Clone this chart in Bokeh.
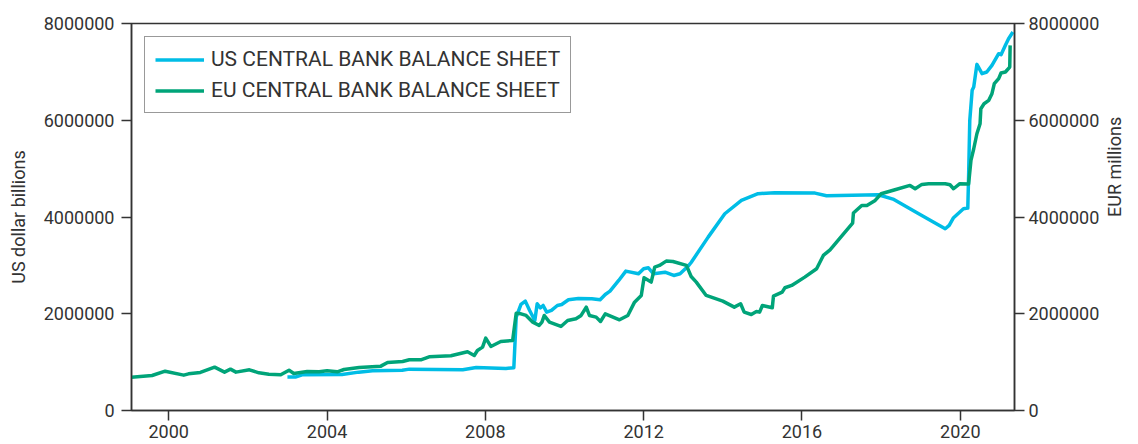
import math
from bokeh.plotting import figure
from bokeh.models import (Range1d, LinearAxis, FixedTicker, BasicTickFormatter,
                          Legend, LegendItem)
from bokeh.embed import file_html
from bokeh.resources import INLINE

# ---- data ----
us_years = [2003.0, 2003.2, 2003.37, 2004.38, 2004.8, 2005.15, 2005.9, 2006.08, 2007.43, 2007.77,
            2008.52, 2008.72, 2008.78, 2008.9, 2009.01, 2009.12, 2009.25, 2009.31, 2009.39, 2009.46,
            2009.55, 2009.67, 2009.82, 2009.93, 2010.1, 2010.35, 2010.69, 2010.9, 2011.03, 2011.15,
            2011.37, 2011.55, 2011.87, 2012.0, 2012.12, 2012.25, 2012.54, 2012.76, 2012.92, 2013.14,
            2013.2, 2013.63, 2014.05, 2014.47, 2014.89, 2015.31, 2016.33, 2016.62, 2017.93, 2018.3,
            2018.95, 2019.62, 2019.72, 2019.83, 2020.08, 2020.19, 2020.21, 2020.24, 2020.3, 2020.34,
            2020.42, 2020.55, 2020.67, 2020.8, 2020.97, 2021.03, 2021.14, 2021.22, 2021.33]
us_values = [690000, 690000, 737000, 744000, 793000, 820000, 834000, 855000, 841000, 889000,
             868000, 885000, 1930000, 2192000, 2261000, 2068000, 1861000, 2206000, 2123000, 2171000,
             2033000, 2068000, 2171000, 2192000, 2289000, 2316000, 2309000, 2289000, 2399000, 2468000,
             2688000, 2881000, 2826000, 2930000, 2950000, 2826000, 2860000, 2792000, 2826000, 2999000,
             3060000, 3584000, 4067000, 4343000, 4481000, 4502000, 4494000, 4440000, 4460000, 4370000,
             4067000, 3757000, 3826000, 3985000, 4171000, 4184000, 4825000, 5997000, 6618000, 6686000,
             7155000, 6963000, 6997000, 7135000, 7376000, 7356000, 7548000, 7686000, 7824000]

eu_years = [1999.06, 1999.58, 1999.91, 2000.38, 2000.5, 2000.8, 2001.16, 2001.41, 2001.56, 2001.7,
            2002.04, 2002.28, 2002.53, 2002.83, 2003.04, 2003.16, 2003.5, 2003.8, 2004.0, 2004.26,
            2004.43, 2004.81, 2005.36, 2005.53, 2005.91, 2006.08, 2006.37, 2006.58, 2007.13, 2007.55,
            2007.72, 2007.8, 2007.93, 2008.01, 2008.14, 2008.39, 2008.69, 2008.78, 2008.9, 2009.03,
            2009.2, 2009.36, 2009.43, 2009.49, 2009.62, 2009.91, 2010.08, 2010.29, 2010.42, 2010.55,
            2010.63, 2010.8, 2010.91, 2011.03, 2011.39, 2011.6, 2011.77, 2011.94, 2012.01, 2012.19,
            2012.28, 2012.4, 2012.57, 2012.74, 2013.08, 2013.2, 2013.33, 2013.58, 2014.0, 2014.29,
            2014.45, 2014.54, 2014.72, 2014.85, 2014.93, 2015.0, 2015.25, 2015.28, 2015.5, 2015.57,
            2015.74, 2016.07, 2016.37, 2016.54, 2016.71, 2017.05, 2017.28, 2017.3, 2017.51, 2017.64,
            2017.85, 2018.0, 2018.35, 2018.73, 2018.86, 2019.03, 2019.2, 2019.62, 2019.74, 2019.83,
            2019.99, 2020.21, 2020.27, 2020.34, 2020.42, 2020.5, 2020.52, 2020.6, 2020.72, 2020.8,
            2020.86, 2020.97, 2021.03, 2021.14, 2021.25, 2021.26]
eu_values = [689000, 724000, 813000, 731000, 758000, 786000, 896000, 793000, 855000, 793000,
             841000, 779000, 751000, 737000, 834000, 765000, 807000, 800000, 820000, 800000,
             848000, 889000, 917000, 993000, 1013000, 1048000, 1048000, 1110000, 1131000, 1213000,
             1137000, 1241000, 1310000, 1496000, 1324000, 1427000, 1448000, 2010000, 1999000, 1965000,
             1826000, 1758000, 1826000, 1965000, 1826000, 1737000, 1861000, 1896000, 1965000, 2137000,
             1965000, 1930000, 1840000, 1999000, 1875000, 1965000, 2240000, 2378000, 2744000, 2654000,
             2964000, 2999000, 3088000, 3081000, 2999000, 2770000, 2654000, 2378000, 2261000, 2137000,
             2206000, 2033000, 1985000, 2047000, 2033000, 2171000, 2123000, 2364000, 2447000, 2537000,
             2585000, 2757000, 2930000, 3205000, 3322000, 3653000, 3874000, 4081000, 4239000, 4239000,
             4343000, 4481000, 4564000, 4653000, 4584000, 4674000, 4688000, 4688000, 4667000, 4584000,
             4688000, 4680000, 5170000, 5411000, 5721000, 5928000, 6239000, 6342000, 6411000, 6549000,
             6756000, 6859000, 6976000, 6997000, 7100000, 7548000]

x_ticks = [2000, 2004, 2008, 2012, 2016, 2020]
y_ticks = [0, 2000000, 4000000, 6000000, 8000000]
series_labels = ["US CENTRAL BANK BALANCE SHEET", "EU CENTRAL BANK BALANCE SHEET"]
left_axis_title = "US dollar billions"
right_axis_title = "EUR millions"

X_START, X_END = 1999.06, 2021.37
Y_MAX = 8000000

US_COLOR = "#00BDE6"
EU_COLOR = "#00A479"
INK = "#333333"
FONT = "Roboto"

p = figure(width=1138, height=444, output_backend="svg", toolbar_location=None,
           x_range=Range1d(X_START, X_END), y_range=Range1d(0, Y_MAX),
           min_border_left=131, min_border_right=124, min_border_top=23, min_border_bottom=34)
p.extra_y_ranges = {"eur": Range1d(0, Y_MAX)}

p.xgrid.visible = False
p.ygrid.visible = False
p.outline_line_color = INK
p.outline_line_width = 1.5
p.background_fill_color = "white"
p.border_fill_color = "white"

us = p.line(us_years, us_values, line_color=US_COLOR, line_width=3.5, line_join="round")
eu = p.line(eu_years, eu_values, line_color=EU_COLOR, line_width=3.5, line_join="round")

def style_axis(ax):
    ax.axis_line_color = INK
    ax.axis_line_width = 1.5
    ax.major_tick_line_color = INK
    ax.major_tick_line_width = 1.5
    ax.major_tick_in = 0
    ax.major_tick_out = 10
    ax.minor_tick_line_color = None
    ax.major_label_text_font = FONT
    ax.major_label_text_font_size = "18px"
    ax.major_label_text_color = INK
    ax.axis_label_text_font = FONT
    ax.axis_label_text_font_size = "18px"
    ax.axis_label_text_font_style = "normal"
    ax.axis_label_text_color = INK

xa = p.xaxis[0]
style_axis(xa)
xa.ticker = FixedTicker(ticks=x_ticks)
xa.major_label_standoff = 4

ya = p.yaxis[0]
style_axis(ya)
ya.ticker = FixedTicker(ticks=y_ticks)
ya.formatter = BasicTickFormatter(use_scientific=False)
ya.axis_label = left_axis_title
ya.major_label_standoff = 7
ya.axis_label_standoff = 12

ra = LinearAxis(y_range_name="eur", ticker=FixedTicker(ticks=y_ticks),
                formatter=BasicTickFormatter(use_scientific=False),
                axis_label=right_axis_title)
style_axis(ra)
ra.major_label_standoff = 4
ra.axis_label_standoff = 12
if "axis_label_orientation" in ra.properties():
    ra.axis_label_orientation = math.pi / 2   # read bottom-to-top, like the reference
p.add_layout(ra, "right")

legend = Legend(items=[LegendItem(label=series_labels[0], renderers=[us]),
                       LegendItem(label=series_labels[1], renderers=[eu])],
                location="top_left")
legend.margin = 13
legend.padding = 10
legend.spacing = 7
legend.glyph_width = 49
legend.glyph_height = 21
legend.label_height = 21
legend.label_standoff = 7
legend.label_text_font = FONT
legend.label_text_font_size = "21px"
legend.label_text_color = INK
legend.border_line_color = INK
legend.border_line_width = 1.5
legend.background_fill_alpha = 1.0
p.add_layout(legend)

open("out.html", "w").write(file_html(p, INLINE))
